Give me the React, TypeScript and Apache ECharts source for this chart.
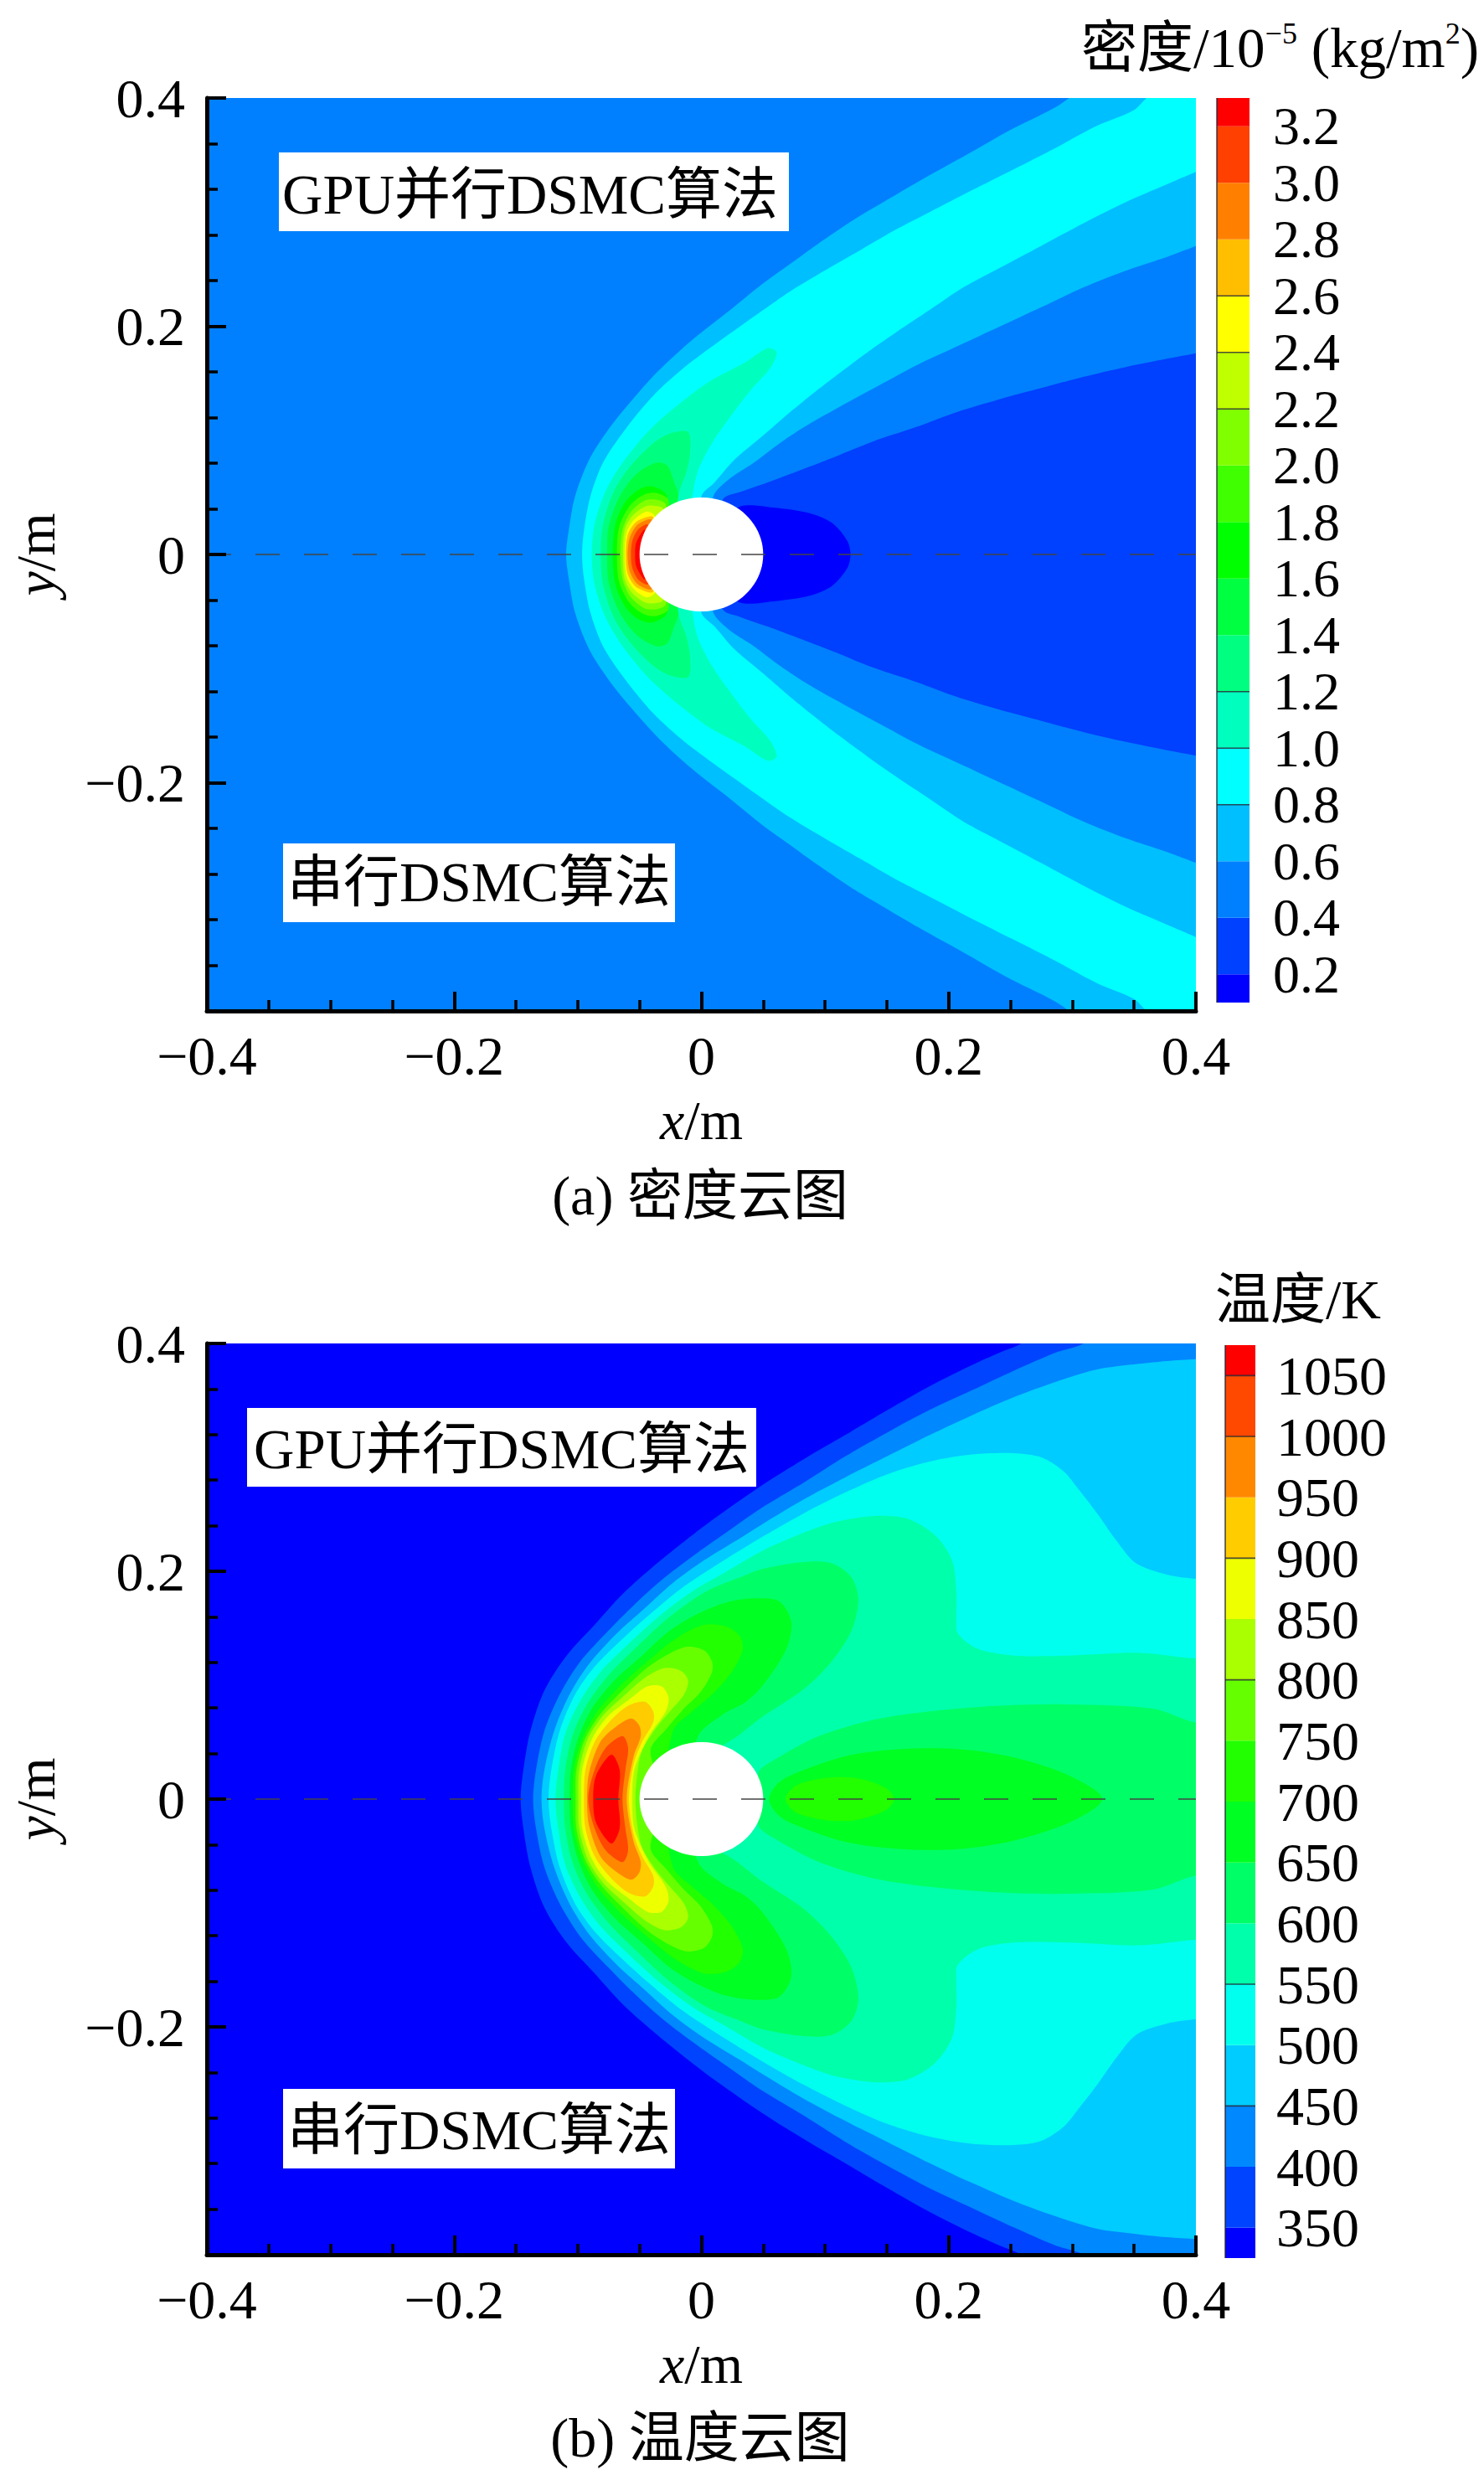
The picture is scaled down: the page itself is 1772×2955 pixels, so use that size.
import React, { useEffect, useRef } from "react";
import * as echarts from "echarts";

type P = number[][];
const FONT = '"Liberation Serif","Noto Sans CJK SC",serif';
const FS = 66;

// Tick values
const xTicks = [-0.4, -0.2, 0, 0.2, 0.4];
const yTicks = [-0.2, 0, 0.2, 0.4];
const obstacleRadius = 0.05;
const dashLine = [[-0.4, 0], [0.4, 0]];

// Colour bar (a)
const densityBounds = [0.1, 0.2, 0.4, 0.6, 0.8, 1.0, 1.2, 1.4, 1.6, 1.8, 2.0, 2.2, 2.4, 2.6, 2.8, 3.0, 3.2, 3.3];
const densityLabels = [0.2, 0.4, 0.6, 0.8, 1.0, 1.2, 1.4, 1.6, 1.8, 2.0, 2.2, 2.4, 2.6, 2.8, 3.0, 3.2];
const densityLines = [0.8, 1.0, 1.2, 2.2, 2.4, 2.6];
const densityColors = ["#0000ff", "#0040ff", "#0080ff", "#00bfff", "#00ffff", "#00ffbf", "#00ff80", "#00ff40", "#00ff00", "#40ff00", "#80ff00", "#bfff00", "#ffff00", "#ffbf00", "#ff8000", "#ff4000", "#ff0000"];

// Colour bar (b)
const tempBounds = [325, 350, 400, 450, 500, 550, 600, 650, 700, 750, 800, 850, 900, 950, 1000, 1050, 1075];
const tempLabels = [350, 400, 450, 500, 550, 600, 650, 700, 750, 800, 850, 900, 950, 1000, 1050];
const tempLines = [450, 550, 800, 900, 1000, 1050];
const tempColors = ["#0000ff", "#0044ff", "#0088ff", "#00ccff", "#00ffee", "#00ffaa", "#00ff66", "#00ff22", "#22ff00", "#66ff00", "#aaff00", "#eeff00", "#ffcc00", "#ff8800", "#ff4800", "#ff0000"];

// Density contours: upper half [x, y] in metres
const dBow06: P = [[-0.1094, 0], [-0.1072, 0.0216], [-0.1022, 0.0509], [-0.0909, 0.0828], [-0.0751, 0.1097], [-0.057, 0.1342], [-0.0344, 0.1612], [-0.0073, 0.1881], [0.0243, 0.215], [0.0491, 0.2368], [0.0717, 0.2545], [0.0943, 0.2722], [0.1239, 0.2938], [0.1487, 0.3097], [0.1756, 0.3268], [0.2163, 0.3513], [0.2479, 0.3708], [0.284, 0.3904], [0.2975, 0.4], [0.32, 0.42], [0.5, 0.42]];
const dBow08: P = [[-0.0965, 0], [-0.0949, 0.0216], [-0.0898, 0.0509], [-0.0796, 0.0803], [-0.0615, 0.1097], [-0.039, 0.1391], [-0.0141, 0.1636], [0.013, 0.1856], [0.0491, 0.2135], [0.0717, 0.2305], [0.1056, 0.2525], [0.1282, 0.2665], [0.1553, 0.2835], [0.1847, 0.3], [0.2186, 0.319], [0.2525, 0.3375], [0.2864, 0.3562], [0.3201, 0.3757], [0.3495, 0.3892], [0.3597, 0.3997], [0.39, 0.43], [0.5, 0.43]];
const dWake06: P = [[0, 0], [0, 0.0509], [0.0107, 0.0632], [0.0265, 0.0828], [0.0491, 0.1035], [0.0694, 0.1225], [0.0897, 0.1405], [0.1123, 0.1595], [0.1349, 0.1776], [0.1575, 0.1947], [0.1847, 0.2143], [0.2117, 0.2339], [0.2411, 0.251], [0.275, 0.2705], [0.3088, 0.2901], [0.3427, 0.3085], [0.3766, 0.3244], [0.4005, 0.3354], [0.5, 0.38]];
const dWake04: P = [[0, 0], [0.0096, 0.0509], [0.022, 0.0656], [0.0423, 0.0803], [0.0627, 0.0969], [0.0829, 0.1115], [0.1078, 0.127], [0.1439, 0.1482], [0.1756, 0.1666], [0.2072, 0.1825], [0.2411, 0.1996], [0.275, 0.2167], [0.3088, 0.2339], [0.3427, 0.2485], [0.3766, 0.2608], [0.4005, 0.2705], [0.5, 0.31]];
const dWake02: P = [[0, 0], [0.0175, 0.0485], [0.0311, 0.0546], [0.0536, 0.0632], [0.0807, 0.0742], [0.1101, 0.0865], [0.1394, 0.0993], [0.1733, 0.1115], [0.2072, 0.125], [0.2411, 0.136], [0.275, 0.1458], [0.3088, 0.1556], [0.3427, 0.1641], [0.3766, 0.1715], [0.4005, 0.1764], [0.5, 0.2]];
const dWake01: P = [[0, 0], [0.02, 0.03], [0.0322, 0.0424], [0.0582, 0.0411], [0.0875, 0.0362], [0.1056, 0.0277], [0.118, 0.012], [0.1206, 0]];
const dLobe10: P = [[-0.0886, 0], [-0.0864, 0.0265], [-0.0773, 0.0558], [-0.0638, 0.0803], [-0.0435, 0.1073], [-0.0209, 0.1293], [0.0062, 0.1514], [0.0356, 0.1685], [0.0536, 0.1808], [0.0609, 0.1771], [0.0559, 0.1636], [0.04, 0.144], [0.0243, 0.122], [0.0085, 0.0975], [-0.0028, 0.073], [-0.0073, 0.0509], [-0.0155, 0]];
const dLobe12: P = [[-0.0814, 0], [-0.0796, 0.0265], [-0.0706, 0.0558], [-0.057, 0.0779], [-0.039, 0.0975], [-0.0254, 0.106], [-0.0107, 0.1073], [-0.0091, 0.0901], [-0.0119, 0.073], [-0.0186, 0.0509], [-0.02, 0]];
const dLobe14: P = [[-0.0762, 0], [-0.0751, 0.024], [-0.0661, 0.0509], [-0.0525, 0.0705], [-0.0367, 0.0803], [-0.0277, 0.0779], [-0.022, 0.0632], [-0.0186, 0.0509], [-0.03, 0]];
const dLobe16: P = [[-0.0717, 0], [-0.0695, 0.0265], [-0.0615, 0.046], [-0.0503, 0.0571], [-0.039, 0.0595], [-0.0277, 0.0509], [-0.03, 0]];
const dLobe18: P = [[-0.0683, 0], [-0.0665, 0.024], [-0.0581, 0.0424], [-0.0469, 0.0522], [-0.0367, 0.0539], [-0.0265, 0.0473], [-0.03, 0]];
const dLobe20: P = [[-0.0654, 0], [-0.0638, 0.0216], [-0.057, 0.0375], [-0.0457, 0.0473], [-0.0367, 0.048], [-0.0288, 0.0436], [-0.03, 0]];
const dLobe22: P = [[-0.0634, 0], [-0.062, 0.0216], [-0.0559, 0.0338], [-0.0446, 0.0424], [-0.0356, 0.0424], [-0.031, 0.04], [-0.03, 0]];
const dLobe24: P = [[-0.062, 0], [-0.0604, 0.0191], [-0.0548, 0.0301], [-0.0446, 0.0375], [-0.0378, 0.0338], [-0.03, 0]];
const dLobe26: P = [[-0.0611, 0], [-0.0597, 0.0167], [-0.0536, 0.0277], [-0.0446, 0.0326], [-0.039, 0.0326], [-0.03, 0]];
const dLobe28: P = [[-0.0597, 0], [-0.0581, 0.0142], [-0.0525, 0.0252], [-0.0446, 0.0301], [-0.04, 0.0301], [-0.03, 0]];
const dLobe30: P = [[-0.057, 0], [-0.0559, 0.0118], [-0.0514, 0.0216], [-0.0446, 0.0265], [-0.0424, 0.0252], [-0.03, 0]];
const dLobe32: P = [[-0.0536, 0], [-0.053, 0.0093], [-0.0491, 0.0179], [-0.0457, 0.0216], [-0.04, 0]];

// Temperature contours: upper half
const tBow350: P = [[-0.1462, 0], [-0.144, 0.0255], [-0.1383, 0.0598], [-0.127, 0.0953], [-0.109, 0.126], [-0.0864, 0.153], [-0.0638, 0.18], [-0.0412, 0.202], [-0.0164, 0.224], [0.0107, 0.2465], [0.0491, 0.2755], [0.083, 0.2985], [0.1169, 0.32], [0.1508, 0.3417], [0.1847, 0.3625], [0.2186, 0.3809], [0.2411, 0.3919], [0.2592, 0.4005], [0.29, 0.43], [0.5, 0.43]];
const tBow400: P = [[-0.1361, 0], [-0.1338, 0.0255], [-0.127, 0.0598], [-0.1146, 0.0917], [-0.0977, 0.1211], [-0.0751, 0.148], [-0.0548, 0.1701], [-0.0322, 0.1922], [-0.0073, 0.213], [0.0198, 0.2338], [0.0491, 0.2559], [0.083, 0.2779], [0.1169, 0.3012], [0.1508, 0.3221], [0.1847, 0.3417], [0.2186, 0.3588], [0.2525, 0.376], [0.2864, 0.3919], [0.31, 0.4005], [0.34, 0.43], [0.5, 0.43]];
const tBow450: P = [[-0.1293, 0], [-0.127, 0.0255], [-0.1191, 0.0598], [-0.1067, 0.0917], [-0.0909, 0.1186], [-0.0683, 0.1456], [-0.0457, 0.1676], [-0.0231, 0.1897], [0.0017, 0.2093], [0.0311, 0.2289], [0.0491, 0.2412], [0.083, 0.2632], [0.1169, 0.2828], [0.1508, 0.3012], [0.1847, 0.3196], [0.2186, 0.3368], [0.2525, 0.3527], [0.2864, 0.3662], [0.3201, 0.3772], [0.354, 0.3821], [0.3766, 0.3846], [0.4005, 0.3863], [0.5, 0.39]];
const tBow500: P = [[-0.1236, 0], [-0.1214, 0.0255], [-0.1146, 0.0598], [-0.1022, 0.0917], [-0.0864, 0.1162], [-0.0638, 0.1407], [-0.0412, 0.1627], [-0.0164, 0.1848], [0.0107, 0.2044], [0.0491, 0.2301], [0.083, 0.251], [0.1169, 0.2694], [0.1508, 0.2853], [0.1847, 0.2963], [0.2186, 0.3025], [0.2525, 0.3037], [0.275, 0.3], [0.293, 0.2877], [0.3043, 0.273], [0.32, 0.251], [0.336, 0.2265], [0.3517, 0.2069], [0.3766, 0.1971], [0.4005, 0.1934], [0.5, 0.19]];
const tBow550: P = [[-0.118, 0], [-0.1157, 0.0255], [-0.1101, 0.0574], [-0.0977, 0.0868], [-0.0819, 0.1113], [-0.0593, 0.1358], [-0.0344, 0.1603], [-0.0073, 0.1824], [0.0198, 0.1995], [0.0491, 0.2179], [0.0717, 0.2289], [0.1056, 0.2424], [0.1395, 0.2485], [0.1666, 0.2461], [0.1892, 0.2314], [0.2028, 0.2093], [0.2062, 0.1824], [0.2062, 0.1578], [0.2073, 0.1456], [0.2231, 0.1321], [0.2525, 0.126], [0.2975, 0.126], [0.354, 0.1284], [0.4005, 0.1235], [0.5, 0.12]];
const tLobe600: P = [[-0.1112, 0], [-0.1101, 0.0255], [-0.1044, 0.0549], [-0.0932, 0.0819], [-0.0751, 0.1088], [-0.0525, 0.1333], [-0.0254, 0.1603], [0.004, 0.1824], [0.0356, 0.1965], [0.0491, 0.202], [0.083, 0.2081], [0.1056, 0.2069], [0.1214, 0.1946], [0.127, 0.175], [0.1214, 0.148], [0.1056, 0.1211], [0.083, 0.0966], [0.0491, 0.0721], [0.0288, 0.0549], [0.01, 0.04], [0, 0]];
const tWake600: P = [[0.0487, 0], [0.0463, 0.0235], [0.0604, 0.0353], [0.0943, 0.0549], [0.1395, 0.0696], [0.1847, 0.077], [0.2411, 0.0819], [0.2975, 0.0831], [0.3654, 0.0794], [0.4005, 0.0672], [0.5, 0.06]];
const tLobe650: P = [[-0.1067, 0], [-0.1056, 0.0255], [-0.0999, 0.0525], [-0.0886, 0.0794], [-0.0706, 0.1039], [-0.048, 0.126], [-0.0254, 0.148], [-0.0028, 0.1627], [0.0198, 0.1725], [0.0423, 0.1762], [0.0627, 0.1738], [0.0728, 0.1554], [0.0683, 0.1309], [0.0491, 0.099], [0.0356, 0.0851], [0.0175, 0.0745], [-0.0028, 0.0549], [-0.01, 0]];
const tWake650: P = [[0.0547, 0], [0.0604, 0.012], [0.0717, 0.0206], [0.1169, 0.0377], [0.1621, 0.0439], [0.2072, 0.0439], [0.2525, 0.0365], [0.2975, 0.0206], [0.3244, 0]];
const tLobe700: P = [[-0.104, 0], [-0.1031, 0.0255], [-0.0965, 0.0525], [-0.0841, 0.077], [-0.0661, 0.099], [-0.0435, 0.1211], [-0.0209, 0.1407], [0.0017, 0.1529], [0.0198, 0.1517], [0.0311, 0.1431], [0.0333, 0.1309], [0.0243, 0.1113], [0.0085, 0.0917], [-0.0073, 0.077], [-0.0231, 0.0598], [-0.03, 0]];
const tWake700: P = [[0.068, 0], [0.0764, 0.0118], [0.1006, 0.0185], [0.1247, 0.0185], [0.1488, 0.01], [0.156, 0]];
const tLobe750: P = [[-0.1017, 0], [-0.1011, 0.0255], [-0.0943, 0.0525], [-0.0819, 0.0745], [-0.0638, 0.0953], [-0.0412, 0.1174], [-0.0141, 0.1333], [0.0017, 0.1309], [0.0085, 0.1211], [0.0085, 0.1113], [-0.0006, 0.0941], [-0.0141, 0.0794], [-0.0277, 0.0623], [-0.0412, 0.0426], [-0.03, 0]];
const tLobe800: P = [[-0.0995, 0], [-0.0988, 0.0255], [-0.092, 0.0525], [-0.0796, 0.0733], [-0.0615, 0.0917], [-0.0457, 0.1064], [-0.0299, 0.115], [-0.0164, 0.1125], [-0.0107, 0.1039], [-0.0141, 0.0917], [-0.0254, 0.077], [-0.0367, 0.0623], [-0.048, 0.0426], [-0.0514, 0.0255], [-0.0534, 0]];
const tLobe850: P = [[-0.0972, 0], [-0.0965, 0.0255], [-0.0886, 0.0525], [-0.0762, 0.0721], [-0.0593, 0.0868], [-0.0435, 0.099], [-0.0322, 0.099], [-0.0265, 0.0892], [-0.0288, 0.077], [-0.0412, 0.0574], [-0.0503, 0.0377], [-0.0548, 0.023], [-0.0559, 0]];
const tLobe900: P = [[-0.095, 0], [-0.0938, 0.0255], [-0.0864, 0.05], [-0.0739, 0.0684], [-0.0593, 0.0819], [-0.0457, 0.0855], [-0.039, 0.077], [-0.039, 0.0672], [-0.048, 0.05], [-0.0548, 0.0304], [-0.0586, 0]];
const tLobe950: P = [[-0.0925, 0], [-0.0909, 0.023], [-0.0819, 0.05], [-0.0706, 0.0623], [-0.057, 0.0708], [-0.0503, 0.0647], [-0.0491, 0.0549], [-0.0548, 0.0377], [-0.0604, 0]];
const tLobe1000: P = [[-0.0916, 0], [-0.0864, 0.0255], [-0.0773, 0.0451], [-0.0638, 0.0554], [-0.0593, 0.0451], [-0.0615, 0.0255], [-0.0638, 0]];
const tLobe1050: P = [[-0.0875, 0], [-0.0852, 0.0206], [-0.0728, 0.039], [-0.0661, 0.0255], [-0.0672, 0]];

const densityLayers: [P, string][] = [
  [dBow06, "#00bfff"], [dBow08, "#00ffff"], [dWake06, "#00bfff"], [dWake04, "#0080ff"], [dWake02, "#0040ff"], [dWake01, "#0000ff"],
  [dLobe10, "#00ffbf"], [dLobe12, "#00ff80"], [dLobe14, "#00ff40"], [dLobe16, "#00ff00"], [dLobe18, "#40ff00"], [dLobe20, "#80ff00"],
  [dLobe22, "#bfff00"], [dLobe24, "#ffff00"], [dLobe26, "#ffbf00"], [dLobe28, "#ff8000"], [dLobe30, "#ff4000"], [dLobe32, "#ff0000"],
];
const tempLayers: [P, string][] = [
  [tBow350, "#0044ff"], [tBow400, "#0088ff"], [tBow450, "#00ccff"], [tBow500, "#00ffee"], [tBow550, "#00ffaa"],
  [tLobe600, "#00ff66"], [tWake600, "#00ff66"], [tLobe650, "#00ff22"], [tWake650, "#00ff22"], [tLobe700, "#22ff00"], [tWake700, "#22ff00"],
  [tLobe750, "#66ff00"], [tLobe800, "#aaff00"], [tLobe850, "#eeff00"], [tLobe900, "#ffcc00"], [tLobe950, "#ff8800"], [tLobe1000, "#ff4800"], [tLobe1050, "#ff0000"],
];

const closePath = (u: P): P => {
  const low = u.slice().reverse().filter((p) => p[1] !== 0).map((p) => [p[0], -p[1]]);
  return [...u, ...low];
};

const fmt = (v: number) => (Math.abs(v) < 1e-9 ? "0" : (v < 0 ? "\u2212" : "") + Math.abs(v).toFixed(1));

const contourSeries = (idx: number, layers: [P, string][]) => ({
  type: "custom",
  xAxisIndex: idx,
  yAxisIndex: idx,
  clip: true,
  silent: true,
  z: 2,
  data: [...layers.map((_, i) => [i, 0]), [layers.length, 0]],
  encode: { x: 0, y: 1 },
  renderItem: (params: any, api: any) => {
    const i = params.dataIndex;
    if (i === layers.length) {
      const pts: number[][] = [];
      for (let k = 0; k < 90; k++) {
        const a = (k / 90) * Math.PI * 2;
        pts.push(api.coord([obstacleRadius * Math.cos(a), obstacleRadius * Math.sin(a)]));
      }
      return { type: "polygon", shape: { points: pts }, style: { fill: "#fff" } };
    }
    const [path, color] = layers[i];
    return {
      type: "polygon",
      shape: { points: closePath(path).map((p) => api.coord(p)), smooth: 0.3 },
      style: { fill: color },
    };
  },
});

const barSeries = (idx: number, bounds: number[], colors: string[]) => ({
  type: "custom",
  xAxisIndex: idx,
  yAxisIndex: idx,
  silent: true,
  z: 2,
  data: colors.map((_, i) => [0, bounds[i], bounds[i + 1]]),
  encode: { x: 0, y: [1, 2] },
  renderItem: (params: any, api: any) => {
    const lo = api.coord([0, api.value(1)]);
    const hi = api.coord([1, api.value(2)]);
    return {
      type: "rect",
      shape: { x: lo[0], y: hi[1], width: hi[0] - lo[0], height: lo[1] - hi[1] },
      style: { fill: colors[params.dataIndex] },
    };
  },
});

const barLineSeries = (idx: number, lines: number[], lo: number, hi: number) => ({
  type: "custom",
  xAxisIndex: idx,
  yAxisIndex: idx,
  silent: true,
  z: 3,
  data: [...lines.map((v) => [0, v, 1, v]), [0, lo, 0, hi]],
  encode: { x: 0, y: 1 },
  renderItem: (_: any, api: any) => {
    const a = api.coord([api.value(0), api.value(1)]);
    const b = api.coord([api.value(2), api.value(3)]);
    return {
      type: "line",
      shape: { x1: a[0], y1: a[1], x2: b[0], y2: b[1] },
      style: { stroke: "#223", lineWidth: 1.6, opacity: 0.8 },
    };
  },
});

const dashSeries = (idx: number) => ({
  type: "line",
  xAxisIndex: idx,
  yAxisIndex: idx,
  silent: true,
  symbol: "none",
  z: 5,
  data: dashLine,
  lineStyle: { color: "#444", width: 1.6, type: [29, 29] },
});

const richName = {
  i: { fontFamily: FONT, fontSize: FS, fontStyle: "italic", color: "#000" },
  r: { fontFamily: FONT, fontSize: FS, color: "#000" },
};

const mainX = (g: number) => ({
  type: "value",
  gridIndex: g,
  min: -0.4,
  max: 0.4,
  interval: 0.2,
  z: 10,
  name: "{i|x}{r|/m}",
  nameLocation: "middle",
  nameGap: 97,
  nameTextStyle: { rich: richName },
  splitLine: { show: false },
  axisLine: { show: true, onZero: false, lineStyle: { color: "#000", width: 5 } },
  axisTick: { show: true, inside: true, length: 23, lineStyle: { color: "#000", width: 4 } },
  minorTick: { show: true, splitNumber: 4, length: 13, lineStyle: { color: "#000", width: 3.5 } },
  axisLabel: { fontFamily: FONT, fontSize: FS, color: "#000", margin: 20, formatter: fmt, showMinLabel: true, showMaxLabel: true, hideOverlap: false, customValues: xTicks },
});

const mainY = (g: number) => ({
  type: "value",
  gridIndex: g,
  min: -0.4,
  max: 0.4,
  interval: 0.2,
  z: 10,
  name: "{i|y}{r|/m}",
  nameLocation: "middle",
  nameGap: 172,
  nameRotate: 90,
  nameTextStyle: { rich: richName },
  splitLine: { show: false },
  axisLine: { show: true, onZero: false, lineStyle: { color: "#000", width: 5 } },
  axisTick: { show: true, inside: true, length: 23, lineStyle: { color: "#000", width: 4 } },
  minorTick: { show: true, splitNumber: 5, length: 13, lineStyle: { color: "#000", width: 3.5 } },
  axisLabel: { fontFamily: FONT, fontSize: FS, color: "#000", margin: 26, formatter: fmt, customValues: yTicks },
});

const barX = (g: number) => ({ type: "value", gridIndex: g, min: 0, max: 1, show: false, splitLine: { show: false } });
const barY = (g: number, min: number, max: number, labels: number[], size: number, margin: number, f: (v: number) => string) => ({
  type: "value",
  gridIndex: g,
  min,
  max,
  position: "right",
  z: 10,
  splitLine: { show: false },
  axisLine: { show: false },
  axisTick: { show: false },
  axisLabel: { fontFamily: FONT, fontSize: size, color: "#000", margin, customValues: labels, formatter: f },
});

const box = (x: number, y: number, w: number, h: number) => ({ type: "rect", z: 100, shape: { x, y, width: w, height: h }, style: { fill: "#fff" } });
const txt = (text: string, x: number, y: number, align = "center", extra: any = {}) => ({
  type: "text",
  z: 101,
  x,
  y,
  style: { text, fontFamily: FONT, fontSize: FS, fill: "#000", align, verticalAlign: "middle", ...extra },
});

export default function App() {
  const ref = useRef<HTMLDivElement>(null);
  useEffect(() => {
    const chart = echarts.init(ref.current!, null, { renderer: "svg" });
    chart.setOption({
      animation: false,
      backgroundColor: "#fff",
      grid: [
        { left: 247, top: 117, width: 1181, height: 1090, backgroundColor: "#0080ff", show: true, borderWidth: 0 },
        { left: 247, top: 1604, width: 1181, height: 1088, backgroundColor: "#0000ff", show: true, borderWidth: 0 },
        { left: 1453, top: 117, width: 39, height: 1080 },
        { left: 1463, top: 1606, width: 36, height: 1090 },
      ],
      xAxis: [mainX(0), mainX(1), barX(2), barX(3)],
      yAxis: [
        mainY(0),
        mainY(1),
        barY(2, 0.1, 3.3, densityLabels, 64, 28, (v) => v.toFixed(1)),
        barY(3, 325, 1075, tempLabels, 66, 25, (v) => String(Math.round(v))),
      ],
      series: [
        contourSeries(0, densityLayers),
        dashSeries(0),
        contourSeries(1, tempLayers),
        dashSeries(1),
        barSeries(2, densityBounds, densityColors),
        barSeries(3, tempBounds, tempColors),
        barLineSeries(2, densityLines, 0.1, 3.3),
        barLineSeries(3, tempLines, 325, 1075),
      ],
      graphic: [
        box(333, 182, 609, 94),
        txt("GPU并行DSMC算法", 633, 232, "center", { fontSize: 67 }),
        box(338, 1007, 468, 94),
        txt("串行DSMC算法", 572, 1053, "center", { fontSize: 67 }),
        box(295, 1681, 608, 94),
        txt("GPU并行DSMC算法", 599, 1730, "center", { fontSize: 67 }),
        box(338, 2494, 468, 95),
        txt("串行DSMC算法", 572, 2543, "center", { fontSize: 67 }),
        txt("(a) 密度云图", 836, 1427),
        txt("(b) 温度云图", 836, 2910),
        txt("{a|密度/10}{s|\u22125}{a| (kg/m}{s|2}{a|)}", 1291, 57, "left", {
          rich: {
            a: { fontFamily: FONT, fontSize: 67, fill: "#000", lineHeight: 70 },
            s: { fontFamily: FONT, fontSize: 36, fill: "#000", verticalAlign: "top", lineHeight: 70 },
          },
        }),
        txt("温度/K", 1451, 1551, "left"),
      ],
    });
    return () => chart.dispose();
  }, []);
  return <div ref={ref} style={{ position: "absolute", left: 0, top: 0, width: 1772, height: 2955 }} />;
}
